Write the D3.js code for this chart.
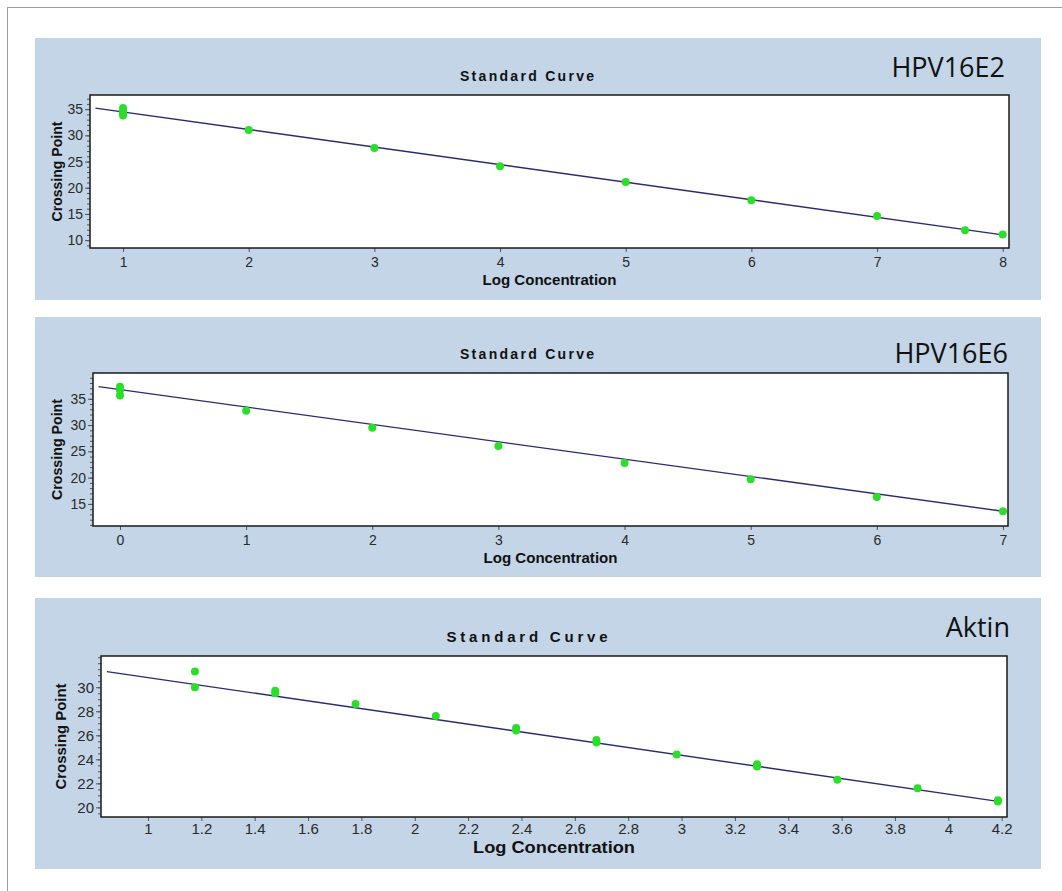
<!DOCTYPE html>
<html>
<head>
<meta charset="utf-8">
<style>
    body { margin: 0; background: #fff; }
    svg { display: block; }
    .tick text { font-family: "Liberation Sans", Arial, sans-serif; fill: #2a2a2a; }
    .tick line { stroke: #555; }
</style>
</head>
<body>
<div id="chart"></div>
<script src="https://d3js.org/d3.v7.min.js"></script>
<script>
    // HPV16E2
    var e2X = [1, 1, 1, 1, 2, 3, 4, 5, 6, 7, 7.7, 8];
    var e2Y = [35.2, 34.7, 34.2, 33.8, 31.0, 27.6, 24.1, 21.1, 17.6, 14.6, 11.9, 11.1];
    var e2FitX = [0.78, 8.0];
    var e2FitY = [35.2, 11.0];
    var e2XTicks = [1, 2, 3, 4, 5, 6, 7, 8];
    var e2YTicks = [10, 15, 20, 25, 30, 35];

    // HPV16E6
    var e6X = [0, 0, 0, 1, 2, 3, 4, 5, 6, 7];
    var e6Y = [37.3, 36.6, 35.6, 32.7, 29.5, 26.0, 22.8, 19.7, 16.3, 13.6];
    var e6FitX = [-0.17, 7.0];
    var e6FitY = [37.3, 13.6];
    var e6XTicks = [0, 1, 2, 3, 4, 5, 6, 7];
    var e6YTicks = [15, 20, 25, 30, 35];

    // Aktin
    var aktX = [1.176, 1.176, 1.477, 1.477, 1.778, 2.079, 2.380, 2.380, 2.681, 2.681, 2.982, 3.283, 3.283, 3.584, 3.885, 4.186, 4.186];
    var aktY = [31.3, 30.0, 29.7, 29.5, 28.6, 27.6, 26.6, 26.4, 25.6, 25.4, 24.4, 23.6, 23.4, 22.3, 21.6, 20.6, 20.5];
    var aktFitX = [0.846, 4.186];
    var aktFitY = [31.3, 20.5];
    var aktXTicks = [1, 1.2, 1.4, 1.6, 1.8, 2, 2.2, 2.4, 2.6, 2.8, 3, 3.2, 3.4, 3.6, 3.8, 4, 4.2];
    var aktYTicks = [20, 22, 24, 26, 28, 30];

    var W = 1062, H = 891;
    var panelColor = "#c3d5e6";
    var dotColor = "#2ade2a";
    var lineColor = "#2b2b70";

    var svg = d3.select("#chart").append("svg")
        .attr("width", W)
        .attr("height", H);

    // outer frame
    svg.append("rect")
        .attr("x", 7.5).attr("y", 7.5)
        .attr("width", 1200).attr("height", 1000)
        .attr("fill", "none")
        .attr("stroke", "#9c9c9c");

    var panels = [
        { name: "HPV16E2", xs: e2X, ys: e2Y, fx: e2FitX, fy: e2FitY, xt: e2XTicks, yt: e2YTicks,
          box: [35, 38, 1041, 300], plot: [90, 95, 1009, 248], xd: [0.737, 8.05], yd: [8.5, 37.7], minor: 1,
          titleY: 81, titleW: 134, nameY: 77, nameR: 1005, font: 14, xPad: 5, xLabY: 285, xLabW: 134, yLabX: 62, yLabW: 100 },
        { name: "HPV16E6", xs: e6X, ys: e6Y, fx: e6FitX, fy: e6FitY, xt: e6XTicks, yt: e6YTicks,
          box: [35, 317, 1041, 577], plot: [93, 373, 1008, 526], xd: [-0.214, 7.04], yd: [10.8, 39.9], minor: 1,
          titleY: 359, titleW: 134, nameY: 363, nameR: 1008, font: 14, xPad: 5, xLabY: 563, xLabW: 134, yLabX: 62, yLabW: 101 },
        { name: "Aktin", xs: aktX, ys: aktY, fx: aktFitX, fy: aktFitY, xt: aktXTicks, yt: aktYTicks,
          box: [35, 598, 1041, 869], plot: [101, 656, 1007, 817], xd: [0.824, 4.22], yd: [19.2, 32.6], minor: 0.5,
          titleY: 642, titleW: 161, nameY: 637, nameR: 1010, font: 15, xPad: 2, xLabY: 853, xLabW: 162, yLabX: 66, yLabW: 106 }
    ];

    panels.forEach(drawPanel);

    function drawPanel(p) {
        var g = svg.append("g");
        var L = p.plot[0], T = p.plot[1], R = p.plot[2], B = p.plot[3];

        g.append("rect")
            .attr("x", p.box[0]).attr("y", p.box[1])
            .attr("width", p.box[2] - p.box[0]).attr("height", p.box[3] - p.box[1])
            .attr("fill", panelColor);

        g.append("rect")
            .attr("x", L).attr("y", T)
            .attr("width", R - L).attr("height", B - T)
            .attr("fill", "#fff");

        var x = d3.scaleLinear().domain(p.xd).range([L, R]);
        var y = d3.scaleLinear().domain(p.yd).range([B, T]);

        // minor ticks on y
        var minorVals = d3.range(Math.ceil(p.yd[0] / p.minor) * p.minor, p.yd[1], p.minor);
        g.append("g")
            .attr("transform", "translate(" + L + ",0)")
            .call(d3.axisLeft(y).tickValues(minorVals).tickSize(3).tickFormat(""))
            .call(a => a.select(".domain").remove())
            .selectAll("line").attr("stroke", "#888");

        g.append("g")
            .attr("transform", "translate(" + L + ",0)")
            .call(d3.axisLeft(y).tickValues(p.yt).tickSize(5).tickPadding(2).tickFormat(d3.format("d")))
            .call(a => a.select(".domain").remove())
            .selectAll("text").style("font-size", p.font + "px");

        g.append("g")
            .attr("transform", "translate(0," + B + ")")
            .call(d3.axisBottom(x).tickValues(p.xt).tickSize(4).tickPadding(p.xPad).tickFormat(d => String(+d.toFixed(1))))
            .call(a => a.select(".domain").remove())
            .selectAll("text").style("font-size", p.font + "px");

        // fitted standard curve
        var fit = p.fx.map((v, i) => [v, p.fy[i]]);
        g.append("path")
            .attr("d", d3.line().x(d => x(d[0])).y(d => y(d[1]))(fit))
            .attr("fill", "none")
            .attr("stroke", lineColor)
            .attr("stroke-width", 1.4);

        g.selectAll(".dot")
            .data(p.xs.map((v, i) => [v, p.ys[i]]))
            .enter().append("circle")
            .attr("class", "dot")
            .attr("cx", d => x(d[0]))
            .attr("cy", d => y(d[1]))
            .attr("r", 4)
            .attr("fill", dotColor);

        g.append("rect")
            .attr("x", L).attr("y", T)
            .attr("width", R - L).attr("height", B - T)
            .attr("fill", "none")
            .attr("stroke", "#1a1a1a")
            .attr("stroke-width", 1.5);

        g.append("text")
            .attr("x", 527).attr("y", p.titleY)
            .attr("text-anchor", "middle")
            .attr("textLength", p.titleW)
            .attr("lengthAdjust", "spacing")
            .style("font-family", "Liberation Sans, Arial, sans-serif")
            .style("font-weight", "bold")
            .style("font-size", p.font + "px")
            .style("fill", "#111")
            .text("Standard Curve");

        g.append("text")
            .attr("x", p.nameR).attr("y", p.nameY)
            .attr("text-anchor", "end")
            .style("font-family", "Open Sans, sans-serif")
            .style("font-size", "27px")
            .style("fill", "#111")
            .text(p.name);

        g.append("text")
            .attr("x", (L + R) / 2).attr("y", p.xLabY)
            .attr("text-anchor", "middle")
            .attr("textLength", p.xLabW)
            .attr("lengthAdjust", "spacingAndGlyphs")
            .style("font-family", "Liberation Sans, Arial, sans-serif")
            .style("font-weight", "bold")
            .style("font-size", (p.font + 1) + "px")
            .style("fill", "#111")
            .text("Log Concentration");

        g.append("text")
            .attr("transform", "translate(" + p.yLabX + "," + ((T + B) / 2) + ") rotate(-90)")
            .attr("text-anchor", "middle")
            .attr("textLength", p.yLabW)
            .attr("lengthAdjust", "spacingAndGlyphs")
            .style("font-family", "Liberation Sans, Arial, sans-serif")
            .style("font-weight", "bold")
            .style("font-size", p.font + "px")
            .style("fill", "#111")
            .text("Crossing Point");
    }
</script>
</body>
</html>
